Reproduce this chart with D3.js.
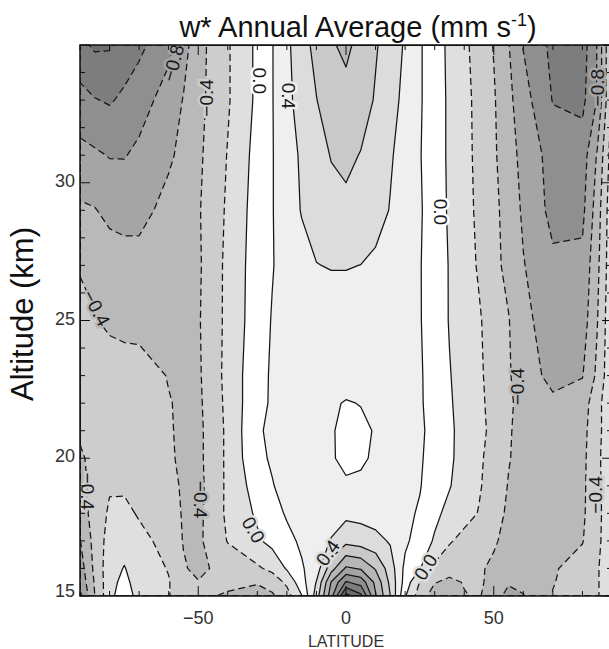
<!DOCTYPE html>
<html><head><meta charset="utf-8">
<script src="https://cdn.jsdelivr.net/npm/d3@7"></script>
<style>body{margin:0;background:#fff}svg{display:block}</style>
</head><body>
<svg id="chart" width="609" height="649"></svg>
<script>
// ---------- data ----------
const lats = [-90,-85,-80,-75,-70,-60,-55,-50,-40,-30,-25,-20,-15,-10,-5,0,5,10,15,20,25,30,35,40,45,50,55,60,70,80,85,90];
const alts = [15,15.5,16,17,18,19,20,21,22,23,25,27,29,31,33,35];
// w* (mm/s), one row per altitude (same order as alts), one value per latitude
const wStar = [
 [-0.85,-0.40,-0.06,0.12,-0.08, -0.19,-0.30,-0.37, -0.42,-0.50,-0.43,-0.28,-0.01, 0.50,1.12,1.88,1.65,1.02, 0.60,0.02,-0.30,-0.50,-0.52, -0.41,-0.38,-0.52,-0.66,-0.61, -0.39,-0.30,-0.22,-0.05],
 [-0.75,-0.38,-0.07,0.06,-0.10, -0.19,-0.32,-0.39, -0.36,-0.38,-0.32,-0.16,0.12, 0.41,1.01,1.42,1.32,0.95, 0.55,0.12,-0.21,-0.39,-0.44, -0.39,-0.36,-0.48,-0.58,-0.55, -0.41,-0.30,-0.22,-0.05],
 [-0.70,-0.35,-0.08,0.01,-0.10, -0.21,-0.38,-0.45, -0.32,-0.23,-0.15,0.02,0.18, 0.30,0.72,1.03,0.98,0.78, 0.50,0.15,0.01,-0.25,-0.33, -0.36,-0.38,-0.43,-0.52,-0.53, -0.42,-0.32,-0.22,-0.05],
 [-0.61,-0.33,-0.12,-0.08,-0.14, -0.27,-0.41,-0.44, -0.19,-0.03,0.06,0.15,0.23, 0.32,0.41,0.54,0.50,0.46, 0.38,0.24,0.10,-0.02,-0.18, -0.26,-0.32,-0.38,-0.45,-0.50, -0.48,-0.41,-0.25,-0.05],
 [-0.50,-0.32,-0.17,-0.15,-0.22, -0.30,-0.42,-0.45, -0.16,0.03,0.13,0.22,0.27, 0.30,0.33,0.35,0.34,0.31, 0.27,0.24,0.18,0.04,-0.05, -0.13,-0.21,-0.33,-0.43,-0.47, -0.46,-0.43,-0.27,-0.03],
 [-0.45,-0.35,-0.22,-0.23,-0.26, -0.33,-0.43,-0.46, -0.16,0.09,0.19,0.26,0.27, 0.26,0.25,0.23,0.24,0.26, 0.25,0.24,0.21,0.10,0.01, -0.08,-0.18,-0.29,-0.41,-0.45, -0.47,-0.44,-0.26,-0.03],
 [-0.42,-0.36,-0.32,-0.30,-0.30, -0.37,-0.44,-0.45, -0.16,0.16,0.22,0.24,0.23, 0.23,0.22,0.15,0.17,0.23, 0.23,0.24,0.22,0.13,0.03, -0.07,-0.17,-0.27,-0.39,-0.46, -0.50,-0.45,-0.25,-0.03],
 [-0.38,-0.33,-0.30,-0.30,-0.30, -0.38,-0.44,-0.45, -0.16,0.18,0.23,0.25,0.24, 0.23,0.21,0.17,0.17,0.21, 0.23,0.24,0.23,0.14,0.03, -0.06,-0.15,-0.25,-0.38,-0.47, -0.52,-0.46,-0.27,-0.03],
 [-0.32,-0.31,-0.30,-0.30,-0.30, -0.39,-0.43,-0.44, -0.15,0.15,0.22,0.24,0.24, 0.23,0.22,0.19,0.205,0.22, 0.24,0.24,0.22,0.13,0.02, -0.07,-0.16,-0.26,-0.37,-0.46, -0.56,-0.50,-0.27,-0.03],
 [-0.33,-0.33,-0.32,-0.31,-0.31, -0.41,-0.43,-0.43, -0.14,0.14,0.22,0.24,0.26, 0.27,0.27,0.27,0.27,0.27, 0.26,0.24,0.22,0.12,0.01, -0.08,-0.17,-0.27,-0.38,-0.50, -0.66,-0.61,-0.36,-0.03],
 [-0.36,-0.39,-0.43,-0.46,-0.47, -0.47,-0.45,-0.42, -0.15,0.11,0.21,0.25,0.28, 0.30,0.30,0.30,0.30,0.30, 0.28,0.25,0.21,0.11,-0.01, -0.09,-0.18,-0.29,-0.39,-0.55, -0.70,-0.70,-0.41,-0.03],
 [-0.41,-0.44,-0.50,-0.52,-0.53, -0.50,-0.47,-0.43, -0.15,0.10,0.19,0.27,0.34, 0.395,0.41,0.41,0.398,0.36, 0.31,0.26,0.21,0.10,-0.01, -0.12,-0.22,-0.34,-0.46,-0.59, -0.76,-0.75,-0.45,-0.05],
 [-0.57,-0.59,-0.65,-0.67,-0.66, -0.54,-0.48,-0.42, -0.17,0.09,0.19,0.31,0.41, 0.48,0.53,0.55,0.53,0.48, 0.39,0.31,0.22,0.10,-0.025, -0.13,-0.24,-0.35,-0.48,-0.63, -0.86,-0.85,-0.50,-0.05],
 [-0.74,-0.77,-0.81,-0.81,-0.76, -0.63,-0.55,-0.44, -0.19,0.07,0.19,0.31,0.43, 0.52,0.61,0.65,0.59,0.50, 0.42,0.32,0.21,0.09,-0.03, -0.14,-0.25,-0.37,-0.52,-0.66, -0.88,-0.90,-0.58,-0.10],
 [-0.93,-0.99,-1.02,-0.96,-0.88, -0.72,-0.59,-0.46, -0.22,0.04,0.19,0.35,0.48, 0.595,0.70,0.74,0.70,0.58, 0.47,0.35,0.22,0.09,-0.03, -0.14,-0.26,-0.38,-0.55,-0.72, -1.01,-1.05,-0.79,-0.15],
 [-1.15,-1.23,-1.22,-1.12,-1.05, -0.85,-0.68,-0.47, -0.22,0.04,0.19,0.36,0.52, 0.66,0.78,0.84,0.74,0.62, 0.50,0.38,0.22,0.09,-0.04, -0.16,-0.28,-0.41,-0.59,-0.81, -1.05,-1.10,-0.79,-0.15]
];
const levels = [-1.2,-1.0,-0.8,-0.6,-0.4,-0.2,0,0.2,0.4,0.6,0.8,1.0,1.2,1.4,1.6,1.8];
const bandColors = ["#6e6e6e","#7d7d7d","#8f8f8f","#a5a5a5","#b9b9b9","#cdcdcd","#dfdfdf",
  "#ffffff","#efefef","#dcdcdc","#c9c9c9","#b6b6b6","#a3a3a3","#909090","#7d7d7d","#6a6a6a","#575757"];
const xTickLabels = [-50,0,50];
const yTickLabels = [15,20,25,30];
const contourLabels = [
  {lat:-29.4, alt:33.7,  text:"0.0",  angle:90},
  {lat:-19.3, alt:33.15, text:"0.4",  angle:90},
  {lat:-47.3, alt:33.08, text:"\u22120.4", angle:-90},
  {lat:-58.4, alt:34.35, text:"\u22120.8", angle:-75},
  {lat:32.1,  alt:28.94, text:"0.0",  angle:90},
  {lat:85.2,  alt:33.45, text:"\u22120.8", angle:-90},
  {lat:-84.5, alt:25.45, text:"\u22120.4", angle:62},
  {lat:58.1,  alt:22.6,  text:"\u22120.4", angle:-90},
  {lat:-49.3, alt:18.5,  text:"\u22120.4", angle:90},
  {lat:-87.4, alt:18.8,  text:"\u22120.4", angle:90},
  {lat:-31.4, alt:17.4,  text:"0.0",  angle:60},
  {lat:-6.1,  alt:16.56, text:"0.4",  angle:-55},
  {lat:27.0,  alt:16.05, text:"0.0",  angle:-58},
  {lat:84.3,  alt:18.67, text:"\u22120.4", angle:-90}
];

// ---------- layout ----------
const svg = d3.select("#chart");
const X0 = 80, X1 = 612, Y0 = 45, Y1 = 596;
const x = d3.scaleLinear().domain([-90,90]).range([X0,X1]);
const y = d3.scaleLinear().domain([15,35]).range([Y1,Y0]);
const nx = lats.length, ny = alts.length;
const iLat = d3.scaleLinear().domain(d3.range(nx)).range(lats).clamp(true);
const iAlt = d3.scaleLinear().domain(d3.range(ny)).range(alts).clamp(true);
const proj = p => [x(iLat(p[0]-0.5)), y(iAlt(p[1]-0.5))];
const toPath = mp => mp.coordinates.map(poly => poly.map(ring =>
  "M" + ring.map(p => proj(p).map(v => v.toFixed(2)).join(",")).join("L") + "Z").join("")).join("");

const values = wStar.flat();
const contours = d3.contours().size([nx, ny]).thresholds(levels)(values);

svg.append("defs").append("clipPath").attr("id","plotclip")
  .append("rect").attr("x",X0).attr("y",Y0).attr("width",X1-X0).attr("height",Y1-Y0);
const plot = svg.append("g").attr("clip-path","url(#plotclip)");

plot.append("rect").attr("x",X0).attr("y",Y0).attr("width",X1-X0).attr("height",Y1-Y0)
  .attr("fill", bandColors[0]);
contours.forEach((c,i) => {
  plot.append("path").attr("d", toPath(c)).attr("fill", bandColors[i+1]).attr("fill-rule","evenodd");
});
contours.forEach((c,i) => {
  plot.append("path").attr("d", toPath(c)).attr("fill","none")
    .attr("stroke","#151515").attr("stroke-width",1.25)
    .attr("stroke-linejoin","round")
    .attr("stroke-dasharray", levels[i] < 0 ? "7,4" : null);
});

// value lookup for label halo colour
function valueAt(lat, alt) {
  let i = Math.max(0, Math.min(nx-2, d3.bisectRight(lats, lat)-1));
  let j = Math.max(0, Math.min(ny-2, d3.bisectRight(alts, alt)-1));
  const tx = (lat-lats[i])/(lats[i+1]-lats[i]), ty = (alt-alts[j])/(alts[j+1]-alts[j]);
  return (1-ty)*((1-tx)*wStar[j][i]+tx*wStar[j][i+1]) + ty*((1-tx)*wStar[j+1][i]+tx*wStar[j+1][i+1]);
}
const bandOf = v => bandColors[d3.bisectRight(levels, v)];

contourLabels.forEach(l => {
  const px = x(l.lat), py = y(l.alt);
  plot.append("text")
    .attr("transform", `translate(${px},${py}) rotate(${l.angle})`)
    .attr("text-anchor","middle").attr("dominant-baseline","central")
    .attr("font-family","'Liberation Sans', Arial, sans-serif").attr("font-size",19)
    .attr("fill","#1a1a1a")
    .attr("stroke", bandOf(valueAt(l.lat, l.alt))).attr("stroke-width",5)
    .attr("paint-order","stroke")
    .text(l.text);
});

// ---------- axes ----------
const axes = svg.append("g").attr("stroke","#111").attr("stroke-width",1);
d3.range(-90, 91, 10).forEach(v => {
  const len = v % 50 === 0 ? 10 : 5;
  axes.append("line").attr("x1",x(v)).attr("x2",x(v)).attr("y1",Y1).attr("y2",Y1-len);
  axes.append("line").attr("x1",x(v)).attr("x2",x(v)).attr("y1",Y0).attr("y2",Y0+len);
});
d3.range(15, 36, 1).forEach(v => {
  const len = v % 5 === 0 ? 10 : 5;
  axes.append("line").attr("x1",X0).attr("x2",X0+len).attr("y1",y(v)).attr("y2",y(v));
  axes.append("line").attr("x1",X1).attr("x2",X1-len).attr("y1",y(v)).attr("y2",y(v));
});
svg.append("rect").attr("x",X0).attr("y",Y0).attr("width",X1-X0).attr("height",Y1-Y0)
  .attr("fill","none").attr("stroke","#111").attr("stroke-width",1.5);

const tickFont = "'Liberation Sans', Arial, sans-serif";
xTickLabels.forEach(v => {
  svg.append("text").attr("x",x(v)).attr("y",624).attr("text-anchor","middle")
    .attr("font-family",tickFont).attr("font-size",18).attr("fill","#333")
    .text(v < 0 ? "\u2212" + Math.abs(v) : String(v));
});
yTickLabels.forEach(v => {
  svg.append("text").attr("x",75).attr("y",y(v) - (v === 15 ? 5 : 2)).attr("text-anchor","end")
    .attr("dominant-baseline","central")
    .attr("font-family",tickFont).attr("font-size",18).attr("fill","#333")
    .text(String(v));
});
svg.append("text").attr("x",346).attr("y",647).attr("text-anchor","middle")
  .attr("font-family",tickFont).attr("font-size",16).attr("fill","#333").text("LATITUDE");

svg.append("text")
  .attr("transform","translate(33,314) rotate(-90)").attr("text-anchor","middle")
  .attr("font-family","'Liberation Sans', Arial, sans-serif").attr("font-size",31).attr("fill","#111")
  .text("Altitude (km)");

const title = svg.append("text").attr("x",358).attr("y",37).attr("text-anchor","middle")
  .attr("font-family","'Liberation Sans', Arial, sans-serif").attr("font-size",29).attr("fill","#111");
title.append("tspan").text("w* Annual Average (mm s");
title.append("tspan").attr("font-size",18).attr("dy",-11).text("-1");
title.append("tspan").attr("dy",11).text(")");
</script>
</body></html>
